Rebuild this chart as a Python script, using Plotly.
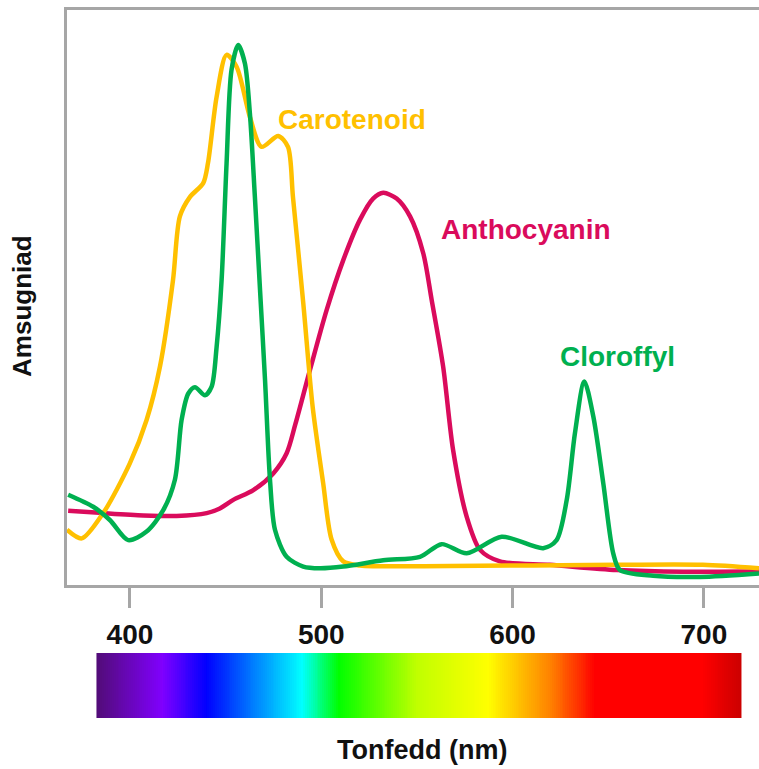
import plotly.graph_objects as go

# ---------------- data ----------------
car_nm = [367.1, 374.8, 386.0, 400.0, 408.7, 415.7, 422.5, 426.1, 431.4, 438.3, 440.8,
          445.3, 450.5, 455.8, 462.7, 468.8, 477.5, 482.6, 485.2, 490.6, 495.5,
          501.0, 505.4, 511.5, 520.2, 567.3, 654.4, 699.5, 728.8]
car_val = [9.6, 8.1, 12.5, 21.2, 28.7, 38.0, 53.0, 64.1, 67.5, 69.9, 73.4,
           84.9, 92.2, 90.1, 81.4, 76.2, 78.1, 76.2, 67.5, 49.0, 31.0,
           17.7, 7.9, 4.1, 3.4, 3.3, 3.5, 3.5, 2.9]

chl_nm = [367.7, 380.8, 389.5, 399.1, 408.7, 417.4, 423.5, 427.0, 430.5, 434.0, 439.2,
          442.7, 445.3, 447.9, 450.5, 453.1, 456.6, 460.1, 462.7, 465.3, 468.0, 470.6,
          473.2, 475.8, 481.9, 490.6, 499.3, 511.5, 532.4, 551.6, 562.9, 576.0, 594.3,
          616.0, 623.0, 628.3, 632.6, 637.5, 642.2, 647.4, 652.6, 656.1, 673.5, 697.9, 728.8]
chl_val = [15.7, 13.6, 11.3, 7.8, 9.3, 13.0, 18.3, 28.7, 33.3, 34.4, 33.0,
           34.5, 41.4, 53.0, 73.3, 89.6, 93.9, 90.7, 82.0, 67.5, 51.3, 35.7,
           18.3, 9.6, 4.9, 3.2, 2.9, 3.2, 4.3, 4.9, 7.1, 5.5, 8.4,
           6.4, 7.8, 14.8, 26.4, 35.4, 29.3, 17.7, 5.5, 2.6, 1.6, 1.4, 2.0]

ant_nm = [367.7, 386.0, 407.0, 424.4, 440.1, 447.0, 454.0, 464.5, 474.9, 481.9, 486.5,
          494.1, 502.8, 511.5, 520.2, 527.1, 532.4, 539.4, 546.4, 553.3, 557.7,
          563.7, 568.9, 576.0, 583.0, 593.4, 619.6, 654.4, 689.2, 728.8]
ant_val = [12.9, 12.5, 12.1, 12.0, 12.5, 13.3, 14.8, 16.5, 19.4, 22.9, 28.0,
           37.4, 47.8, 56.5, 63.5, 67.2, 68.2, 67.2, 64.1, 57.7, 49.6,
           38.0, 23.5, 11.9, 6.1, 4.1, 3.5, 2.6, 2.3, 2.4]

labels = ["Carotenoid", "Anthocyanin", "Cloroffyl"]
label_nm = [516.3, 607.0, 654.9]
label_val = [81.0, 61.9, 39.8]
colors = ["#FFC000", "#DA0B5C", "#00B050"]

tick_vals = [400, 500, 600, 700]
tick_text = ["400", "500", "600", "700"]

# visible spectrum bar: wavelength stops and colours
spec_nm = [383, 417, 440, 465, 490, 509, 550, 587, 620, 643, 699, 719]
spec_col = ["#520c78", "#8000ff", "#0000ff", "#0080ff", "#00ffff", "#00ff00",
            "#c0ff00", "#ffff00", "#ff8000", "#ff0000", "#ff0000", "#cc0000"]
spec_x = list(range(spec_nm[0], spec_nm[-1] + 1))

x_title = "Tonfedd (nm)"
y_title = "Amsugniad"

FONT = "Liberation Sans, Arial, sans-serif"
AXC = "#a6a6a6"

fig = go.Figure()

# spectrum bar as heatmap on the lower y axis
lo, hi = spec_nm[0], spec_nm[-1]
cscale = [[(n - lo) / (hi - lo), c] for n, c in zip(spec_nm, spec_col)]
fig.add_trace(go.Heatmap(x=spec_x, y=[0], z=[spec_x], zmin=lo, zmax=hi,
                         colorscale=cscale, showscale=False, yaxis="y2",
                         hoverinfo="skip"))

for nm, val, col in [(ant_nm, ant_val, colors[1]),
                     (car_nm, car_val, colors[0]),
                     (chl_nm, chl_val, colors[2])]:
    fig.add_trace(go.Scatter(x=nm, y=val, mode="lines",
                             line=dict(color=col, width=4.5, shape="spline", smoothing=0.8),
                             showlegend=False, yaxis="y"))

annotations = []
for t, xn, yv, c in zip(labels, label_nm, label_val, colors):
    annotations.append(dict(text="<b>" + t + "</b>", x=xn, y=yv, xref="x", yref="y",
                            showarrow=False,
                            font=dict(family=FONT, size=28, color=c),
                            xanchor="center", yanchor="middle"))

annotations.append(dict(text="<b>" + x_title + "</b>", x=0.5123, y=-0.0452,
                        xref="paper", yref="paper", showarrow=False,
                        font=dict(family=FONT, size=27, color="#111111"),
                        xanchor="center", yanchor="middle"))
annotations.append(dict(text="<b>" + y_title + "</b>", x=-0.065, y=0.582,
                        xref="paper", yref="paper", showarrow=False, textangle=-90,
                        font=dict(family=FONT, size=26, color="#111111"),
                        xanchor="center", yanchor="middle"))

fig.update_layout(
    width=759, height=769,
    margin=dict(l=67, r=0, t=10, b=51),
    paper_bgcolor="white", plot_bgcolor="white",
    showlegend=False,
    xaxis=dict(range=[367.1, 728.8], anchor="y", tickvals=tick_vals, ticktext=tick_text,
               ticks="outside", ticklen=20, tickwidth=3, tickcolor=AXC,
               showline=True, linewidth=3, linecolor=AXC, mirror=True,
               showgrid=False, zeroline=False, ticklabelstandoff=2,
               tickfont=dict(family=FONT, size=28, color="#111111", weight="bold")),
    yaxis=dict(domain=[0.1879, 1.0], range=[0, 100], showticklabels=False,
               ticks="", showline=True, linewidth=3, linecolor=AXC,
               showgrid=False, zeroline=False),
    yaxis2=dict(domain=[0.0, 0.0918], range=[-0.5, 0.5], showticklabels=False,
                showline=False, showgrid=False, zeroline=False, ticks=""),
    annotations=annotations,
)

fig.write_html("out.html",
               config={"displayModeBar": False},
               post_script="document.body.style.margin='0';document.body.style.overflow='hidden';")
